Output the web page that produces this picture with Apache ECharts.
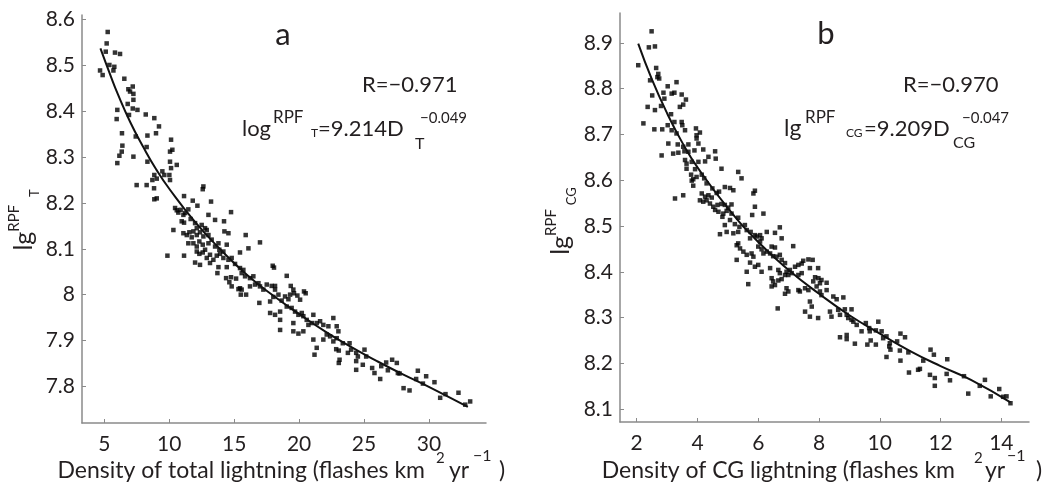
<!DOCTYPE html>
<html><head><meta charset="utf-8">
<script src="https://cdn.jsdelivr.net/npm/echarts@6/dist/echarts.min.js"></script>
<style>html,body{margin:0;padding:0;background:#fff}#c{width:1053px;height:489px}</style>
</head><body><div id="c"></div>
<script>
// ---------- tick labels ----------
const aTicksX = [5, 10, 15, 20, 25, 30];
const aTicksY = [7.8, 7.9, 8, 8.1, 8.2, 8.3, 8.4, 8.5, 8.6];
const bTicksX = [2, 4, 6, 8, 10, 12, 14];
const bTicksY = [8.1, 8.2, 8.3, 8.4, 8.5, 8.6, 8.7, 8.8, 8.9];

// ---------- panel a: total lightning density vs lg RPF_T ----------
const aPoints = [
[5.26,8.573],[5.18,8.548],[5.11,8.530],[5.82,8.528],[6.21,8.525],[4.67,8.489],[4.87,8.479],[5.39,8.501],[5.70,8.489],[5.77,8.497],
[6.54,8.471],[6.85,8.448],[7.19,8.454],[6.98,8.443],[7.24,8.438],[6.80,8.416],[7.24,8.425],[7.55,8.403],[7.19,8.406],[6.90,8.392],
[6.00,8.403],[5.95,8.383],[6.36,8.352],[6.39,8.325],[6.34,8.312],[6.16,8.303],[6.00,8.287],[8.19,8.393],[8.85,8.385],[9.21,8.367],
[8.32,8.347],[8.98,8.352],[7.42,8.345],[8.26,8.322],[8.32,8.290],[7.49,8.239],[8.26,8.239],[7.24,8.301],[10.14,8.338],[10.24,8.316],
[10.06,8.312],[10.06,8.290],[10.14,8.276],[10.58,8.283],[9.47,8.269],[9.62,8.261],[9.04,8.253],[8.85,8.261],[8.70,8.250],[8.85,8.208],
[9.04,8.210],[8.83,8.232],[10.01,8.261],[10.06,8.250],
[12.63,8.236],[12.58,8.230],[11.14,8.215],[11.81,8.205],[12.17,8.194],[13.22,8.203],[10.45,8.189],[10.58,8.184],[10.70,8.179],[10.88,8.185],
[11.22,8.178],[11.47,8.186],[11.09,8.174],[10.32,8.141],[10.96,8.160],[11.14,8.157],[11.65,8.165],[11.99,8.156],[11.86,8.138],[12.12,8.145],
[12.50,8.152],[12.76,8.145],[13.02,8.174],[13.53,8.163],[14.22,8.160],[14.76,8.180],[11.09,8.134],[11.35,8.130],[11.55,8.136],[11.73,8.125],
[12.12,8.130],[12.37,8.136],[12.63,8.127],[12.89,8.141],[13.02,8.130],[11.47,8.112],[11.86,8.112],[12.12,8.105],[12.32,8.116],[12.58,8.109],
[12.76,8.098],[13.02,8.112],[13.27,8.120],[13.53,8.105],[13.79,8.112],[13.86,8.098],[14.17,8.094],[14.43,8.109],[14.25,8.138],[14.56,8.134],
[15.89,8.130],[16.99,8.114],[16.10,8.101],[15.45,8.092],[12.12,8.094],[12.32,8.089],[12.58,8.092],[12.89,8.080],[13.14,8.087],[13.40,8.076],
[13.66,8.085],[13.91,8.089],[14.17,8.080],[14.56,8.076],[14.81,8.080],[15.07,8.067],[9.86,8.085],[11.14,8.085],[11.99,8.070],[12.37,8.065],
[13.14,8.069],[13.79,8.060],[14.43,8.060],[15.45,8.058],[15.71,8.054],[15.58,8.047],[15.84,8.040],[16.22,8.036],[16.48,8.040],[13.71,8.047],
[14.38,8.036],[14.76,8.038],[14.63,8.027],[14.81,8.018],[15.15,8.035],[15.45,8.014],[15.33,8.012],[15.58,8.011],[15.51,8.000],[15.92,8.000],
[16.22,8.018],[16.61,8.022],[16.87,8.025],[16.99,8.018],[17.25,8.011],[17.51,8.022],[17.89,8.019],[18.15,8.019],[17.97,8.063],[18.07,8.059],
[19.05,8.041],[16.94,7.982],[17.77,7.985],[18.02,7.995],[18.41,8.000],[18.66,7.987],[18.92,7.996],[19.18,7.990],[19.31,8.000],[19.61,8.003],
[19.56,8.011],[19.87,7.998],[20.08,7.989],[20.38,8.007],[20.51,8.003],[19.36,8.019],[18.15,8.011],[18.54,7.963],[17.77,7.960],[18.15,7.956],
[19.05,7.974],[19.43,7.971],[19.69,7.963],[19.95,7.956],[20.21,7.960],[20.33,7.953],[20.59,7.945],[20.72,7.934],[20.98,7.938],[21.10,7.956],
[21.36,7.938],[21.62,7.942],[21.87,7.934],[22.26,7.931],[22.64,7.949],[22.90,7.931],[23.03,7.920],[18.54,7.945],[18.54,7.923],[19.56,7.938],
[19.56,7.920],[19.95,7.915],[20.33,7.920],[21.10,7.902],[21.36,7.884],[21.87,7.902],[22.13,7.913],[22.39,7.909],[22.64,7.898],[22.90,7.905],
[21.19,7.869],[22.86,7.881],[23.06,7.878],[23.37,7.894],[23.89,7.894],[23.76,7.873],[24.01,7.880],[24.40,7.873],[24.53,7.865],[24.40,7.855],
[25.04,7.880],[25.17,7.865],[24.91,7.847],[23.12,7.858],[23.06,7.851],[24.40,7.836],[25.63,7.840],[25.81,7.829],[26.25,7.816],[26.33,7.844],
[26.71,7.852],[26.84,7.835],[27.17,7.858],[27.53,7.851],[27.61,7.829],[27.74,7.828],[28.05,7.796],[28.51,7.791],[29.02,7.816],[29.15,7.834],
[29.54,7.806],[29.79,7.822],[30.43,7.809],[30.87,7.775],[31.28,7.783],[32.28,7.786],[32.80,7.760],[33.18,7.767]
];
const aFit = [
[4.7,8.537],[5.5,8.476],[6,8.44],[7,8.376],[8,8.322],[9,8.273],[10,8.231],[12,8.158],[14,8.097],[16,8.043],
[18,7.998],[20,7.958],[22,7.92],[24,7.886],[26,7.855],[28,7.826],[30,7.799],[33,7.755]
];

// ---------- panel b: CG lightning density vs lg RPF_CG ----------
const bPoints = [
[2.49,8.925],[2.40,8.890],[2.60,8.892],[2.05,8.851],[2.64,8.845],[2.71,8.832],[2.68,8.825],[2.44,8.818],[2.74,8.822],[2.51,8.785],
[2.88,8.791],[3.02,8.805],[3.31,8.814],[3.15,8.789],[3.24,8.791],[3.48,8.787],[3.62,8.776],[3.53,8.765],[3.42,8.760],[2.91,8.778],
[2.80,8.762],[2.36,8.760],[2.60,8.753],[3.13,8.744],[2.22,8.724],[2.58,8.711],[2.84,8.711],[3.02,8.720],[3.24,8.727],[3.48,8.727],
[3.50,8.720],[3.15,8.709],[3.31,8.702],[3.59,8.709],[3.95,8.713],[4.08,8.704],[3.97,8.698],[3.97,8.691],[3.04,8.680],[3.35,8.678],
[3.53,8.673],[3.70,8.678],[4.03,8.680],[2.82,8.654],[3.20,8.658],[3.37,8.660],[3.57,8.663],[3.70,8.662],[3.90,8.665],[4.19,8.667],
[4.36,8.651],[4.58,8.663],[4.60,8.647],[3.59,8.644],[3.64,8.636],[3.81,8.640],[4.03,8.640],[4.25,8.641],[3.64,8.625],[3.92,8.624],
[4.14,8.612],[4.79,8.625],[5.34,8.618],[5.45,8.604],[3.79,8.612],[3.86,8.602],[3.97,8.607],[3.81,8.599],[4.22,8.604],[4.30,8.593],
[3.86,8.588],[3.26,8.560],[3.53,8.567],[4.14,8.571],[4.25,8.564],[4.36,8.567],[4.08,8.556],[4.19,8.553],[4.30,8.556],[4.47,8.562],
[4.49,8.582],[4.63,8.572],[4.71,8.575],[4.90,8.585],[5.07,8.583],[5.18,8.578],[5.84,8.571],[5.89,8.577],[4.41,8.549],[4.52,8.542],
[4.66,8.546],[4.79,8.548],[4.90,8.546],[5.01,8.540],[5.12,8.547],[4.58,8.535],[4.69,8.531],[4.85,8.527],[4.96,8.533],[5.12,8.527],
[5.89,8.542],[4.82,8.520],[5.07,8.513],[5.34,8.518],[5.80,8.524],[6.17,8.527],[4.90,8.502],[4.74,8.482],[4.96,8.487],
[5.23,8.504],[5.38,8.498],[5.56,8.502],[5.18,8.484],[5.34,8.487],[5.62,8.491],[5.75,8.487],[5.89,8.480],[5.73,8.473],[5.95,8.477],
[6.06,8.480],[6.11,8.473],[6.28,8.487],[6.55,8.485],[6.71,8.497],[6.77,8.473],[6.06,8.466],[6.00,8.455],[6.11,8.449],[6.17,8.440],
[5.29,8.458],[5.34,8.462],[5.40,8.451],[5.51,8.444],[5.29,8.426],[5.62,8.437],[5.78,8.440],[5.84,8.433],[6.28,8.444],[6.44,8.455],
[6.55,8.453],[6.39,8.440],[6.49,8.434],[6.60,8.433],[6.71,8.437],[6.77,8.426],[6.88,8.419],[7.15,8.456],[5.62,8.400],[5.89,8.411],
[6.00,8.415],[6.11,8.400],[5.73,8.420],[6.39,8.408],[6.66,8.404],[6.71,8.397],[6.88,8.393],[6.93,8.400],[7.04,8.404],[7.10,8.397],
[7.21,8.411],[7.32,8.415],[7.43,8.418],[7.48,8.424],[7.65,8.427],[7.79,8.426],[7.70,8.408],[7.97,8.408],[7.43,8.397],[7.32,8.393],
[6.99,8.393],[6.44,8.386],[6.49,8.379],[6.66,8.381],[6.77,8.384],[6.55,8.371],[6.44,8.368],[5.67,8.373],[6.93,8.364],[6.99,8.357],
[6.88,8.352],[7.32,8.360],[7.37,8.357],[7.54,8.364],[7.65,8.360],[7.81,8.379],[7.87,8.388],[7.98,8.386],[8.08,8.382],[8.25,8.376],
[7.92,8.368],[8.03,8.357],[8.08,8.349],[8.25,8.360],[8.03,8.375],[7.70,8.335],[7.76,8.324],[8.47,8.346],[8.58,8.340],[8.80,8.344],
[7.54,8.313],[7.70,8.302],[7.97,8.299],[8.36,8.313],[8.41,8.302],[8.63,8.317],[8.69,8.306],[8.85,8.318],[8.91,8.306],[9.07,8.318],
[8.96,8.299],[9.07,8.295],[9.13,8.291],[9.24,8.284],[8.69,8.257],[8.91,8.262],[8.91,8.253],[9.18,8.243],[6.64,8.320],
[9.54,8.288],[9.65,8.277],[9.87,8.272],[9.95,8.291],[9.40,8.270],[9.67,8.270],[10.06,8.270],[10.11,8.255],[9.59,8.241],[9.70,8.250],
[9.87,8.241],[10.22,8.259],[10.33,8.244],[10.35,8.230],[10.31,8.237],[10.57,8.248],[10.68,8.265],[10.83,8.257],[10.66,8.228],[10.94,8.224],
[10.22,8.214],[10.68,8.206],[10.96,8.180],[11.26,8.186],[11.32,8.188],[11.43,8.206],[11.67,8.230],[11.78,8.219],[11.65,8.175],[11.81,8.168],
[11.81,8.151],[12.22,8.209],[12.20,8.177],[12.31,8.163],[12.77,8.172],[12.91,8.134],[13.29,8.151],[13.46,8.164],[13.65,8.128],[13.93,8.144],
[14.06,8.127],[14.17,8.128],[14.30,8.113]
];
const bFit = [
[2.05,8.898],[2.5,8.82],[3,8.746],[3.5,8.682],[4,8.628],[5,8.539],[6,8.465],[7,8.404],[8,8.352],[9,8.305],
[10,8.265],[11,8.227],[12,8.194],[13,8.164],[14.3,8.115]
];

// ---------- styling ----------
const FONT = 'Lato';
const INK = '#231f20';
const AXIS = '#8a8a8a';

function xAx(gi, min, max, ticks) {
  return {
    gridIndex: gi, type: 'value', min: min, max: max,
    axisLine: { show: true, onZero: false, lineStyle: { color: AXIS, width: 1.5 } },
    axisTick: { show: true, inside: true, length: 4, customValues: ticks, lineStyle: { color: AXIS, width: 1 } },
    axisLabel: { customValues: ticks, fontSize: 21, fontFamily: FONT, color: INK, margin: 11 },
    splitLine: { show: false }
  };
}
function yAx(gi, min, max, ticks) {
  return {
    gridIndex: gi, type: 'value', min: min, max: max,
    axisLine: { show: true, onZero: false, lineStyle: { color: AXIS, width: 1.5 } },
    axisTick: { show: true, inside: true, length: 4, customValues: ticks, lineStyle: { color: AXIS, width: 1 } },
    axisLabel: { customValues: ticks, fontSize: 21, fontFamily: FONT, color: INK, margin: 7 },
    splitLine: { show: false }
  };
}
function txt(x, y, s, size, align) {
  return { type: 'text', x: x, y: y, silent: true,
    style: { text: s, fontSize: size, fontFamily: FONT, fill: INK, align: align || 'left', verticalAlign: 'middle' } };
}
const yRich = {
  m: { fontSize: 25, fontFamily: FONT, color: INK, lineHeight: 34 },
  s: { fontSize: 15, fontFamily: FONT, color: INK, lineHeight: 15, verticalAlign: 'top' },
  t: { fontSize: 13, fontFamily: FONT, color: INK, lineHeight: 13, verticalAlign: 'bottom' }
};
function richTxt(x, y, s, rich, rot) {
  return { type: 'text', x: x, y: y, rotation: rot || 0, silent: true,
    style: { text: s, rich: rich, fill: INK, align: 'center', verticalAlign: 'middle' } };
}

const chart = echarts.init(document.getElementById('c'), null, { renderer: 'canvas' });
chart.setOption({
  animation: false,
  backgroundColor: '#ffffff',
  grid: [
    { left: 82, top: 15, width: 404, height: 408 },
    { left: 620, top: 13, width: 409, height: 409 }
  ],
  xAxis: [xAx(0, 3.28, 34.4, aTicksX), xAx(1, 1.45, 14.91, bTicksX)],
  yAxis: [yAx(0, 7.72, 8.61, aTicksY), yAx(1, 8.072, 8.965, bTicksY)],
  series: [
    { type: 'scatter', xAxisIndex: 0, yAxisIndex: 0, data: aPoints, symbol: 'rect', symbolSize: 4.5,
      itemStyle: { color: '#000' }, silent: true },
    { type: 'line', xAxisIndex: 0, yAxisIndex: 0, data: aFit, smooth: true, showSymbol: false,
      lineStyle: { color: '#111', width: 2 }, silent: true },
    { type: 'scatter', xAxisIndex: 1, yAxisIndex: 1, data: bPoints, symbol: 'rect', symbolSize: 4.5,
      itemStyle: { color: '#000' }, silent: true },
    { type: 'line', xAxisIndex: 1, yAxisIndex: 1, data: bFit, smooth: true, showSymbol: false,
      lineStyle: { color: '#111', width: 2 }, silent: true }
  ],
  graphic: [
    // panel letters
    txt(283, 35, 'a', 31, 'center'),
    txt(826, 34, 'b', 31, 'center'),
    // panel a annotations
    txt(362, 85, 'R=\u22120.971', 22),
    txt(242, 129, 'log', 22),
    txt(273, 118, 'RPF', 17),
    txt(311, 133, 'T', 12),
    txt(318, 129, '=9.214D', 22),
    txt(420, 118, '\u22120.049', 15),
    txt(415, 144, 'T', 16),
    // panel b annotations
    txt(903, 85, 'R=\u22120.970', 22),
    txt(784, 129, 'lg', 23),
    txt(805, 118, 'RPF', 17),
    txt(846, 133, 'CG', 12),
    txt(864, 129, '=9.209D', 22),
    txt(962, 118, '\u22120.047', 15),
    txt(953, 143, 'CG', 16),
    // x axis title a
    txt(425, 471, 'Density of total lightning (flashes km', 23, 'right'),
    txt(436, 458, '2', 15),
    txt(449, 471, 'yr', 23),
    txt(473, 456, '\u22121', 16),
    txt(499, 471, ')', 23),
    // x axis title b
    txt(955, 471, 'Density of CG lightning (flashes km', 23, 'right'),
    txt(974, 458, '2', 15),
    txt(985, 471, 'yr', 23),
    txt(1007, 456, '\u22121', 16),
    txt(1036, 471, ')', 23),
    // y axis titles
    richTxt(24, 220, '{m|lg}{s|RPF  }{t|T}', yRich, Math.PI / 2),
    richTxt(561, 221, '{m|lg}{s|RPF }{t|CG}', yRich, Math.PI / 2)
  ]
});
</script>
</body></html>
